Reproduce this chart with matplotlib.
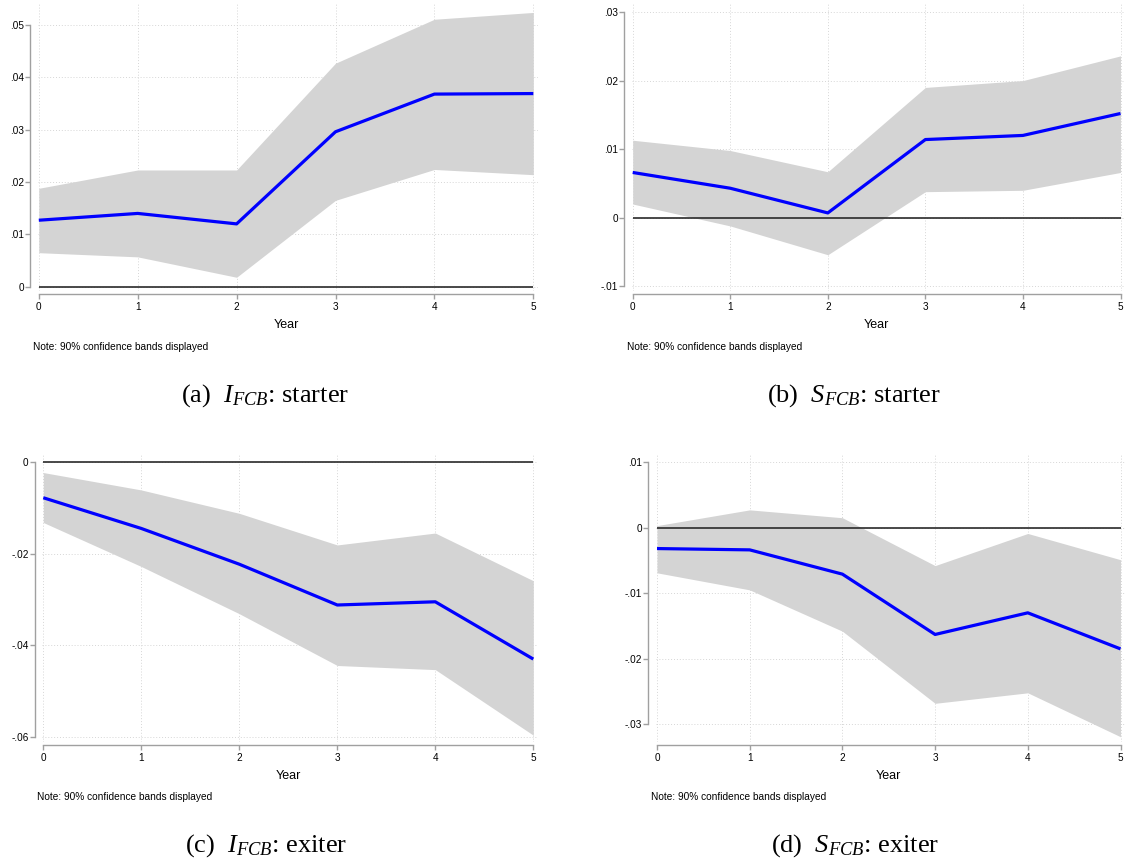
import matplotlib
matplotlib.use("Agg")
import matplotlib.pyplot as plt
from matplotlib.ticker import FuncFormatter, FixedLocator

plt.rcParams['font.family'] = ['Liberation Sans', 'DejaVu Sans']
plt.rcParams['mathtext.fontset'] = 'custom'
plt.rcParams['mathtext.rm'] = 'Liberation Serif'
plt.rcParams['mathtext.it'] = 'Liberation Serif:italic'

# ---------------- data ----------------
years = [0, 1, 2, 3, 4, 5]
year_labels = ["0", "1", "2", "3", "4", "5"]

a_est = [0.0127, 0.0140, 0.0120, 0.0296, 0.0368, 0.0369]
a_hi = [0.0188, 0.0223, 0.0223, 0.0427, 0.0511, 0.0524]
a_lo = [0.0065, 0.0057, 0.0018, 0.0165, 0.0224, 0.0214]
a_yticks = [0.0, 0.01, 0.02, 0.03, 0.04, 0.05]

b_est = [0.0066, 0.0043, 0.0007, 0.0114, 0.0120, 0.0152]
b_hi = [0.0113, 0.0098, 0.0067, 0.0190, 0.0200, 0.0236]
b_lo = [0.0020, -0.0012, -0.0054, 0.0038, 0.0040, 0.0066]
b_yticks = [-0.01, 0.0, 0.01, 0.02, 0.03]

c_est = [-0.0078, -0.0145, -0.0223, -0.0312, -0.0305, -0.0430]
c_hi = [-0.0023, -0.0061, -0.0112, -0.0181, -0.0155, -0.0259]
c_lo = [-0.0132, -0.0228, -0.0331, -0.0444, -0.0453, -0.0596]
c_yticks = [-0.06, -0.04, -0.02, 0.0]

d_est = [-0.0032, -0.0034, -0.0071, -0.0163, -0.0130, -0.0185]
d_hi = [0.0003, 0.0027, 0.0015, -0.0058, -0.0009, -0.0049]
d_lo = [-0.0069, -0.0095, -0.0158, -0.0268, -0.0252, -0.0319]
d_yticks = [-0.03, -0.02, -0.01, 0.0, 0.01]

captions = [r"(a)  $I_{FCB}$: starter", r"(b)  $S_{FCB}$: starter",
            r"(c)  $I_{FCB}$: exiter", r"(d)  $S_{FCB}$: exiter"]
note_text = "Note: 90% confidence bands displayed"
xlabel_text = "Year"

# ---------------- layout ----------------
W, H = 1126, 867
fig = plt.figure(figsize=(W / 100, H / 100), dpi=100)

BAND = '#d4d4d4'
LINE = '#0000ff'
SPINE = '#a0a0a0'
GRID = '#d6d6d6'


def fmt(v, pos=None):
    if abs(v) < 1e-12:
        return "0"
    s = f"{v:.2f}"
    s = s.replace("0.", ".")
    return s


def panel(est, hi, lo, yticks, x0, x5, yp_top, yp_bot, top, bottom,
          caption, cap_x, cap_y, year_y, note_y):
    sx = (x5 - x0) / 5.0
    L = x0 - 1
    R = min(x5 + 5, W - 1)
    xlim = ((L - x0) / sx, 5 + (R - x5) / sx)
    v1, v2 = max(yticks), min(yticks)
    sy = (yp_bot - yp_top) / (v1 - v2)
    ylim = (v2 - (bottom - yp_bot) / sy, v1 + (yp_top - top) / sy)
    ax = fig.add_axes([L / W, 1 - bottom / H, (R - L) / W, (bottom - top) / H])
    ax.set_xlim(*xlim)
    ax.set_ylim(*ylim)

    ax.fill_between(years, lo, hi, color=BAND, lw=0, zorder=2)
    ax.hlines(0, years[0], years[-1], color='#2a2a2a', lw=1.2, zorder=3)
    ax.plot(years, est, color=LINE, lw=2.3, zorder=4, solid_capstyle='butt')

    ax.xaxis.set_major_locator(FixedLocator(years))
    ax.set_xticklabels(year_labels)
    ax.yaxis.set_major_locator(FixedLocator(yticks))
    ax.yaxis.set_major_formatter(FuncFormatter(fmt))
    ax.grid(True, color=GRID, lw=0.7, ls=(0, (1, 2)), zorder=0)
    ax.set_axisbelow(True)

    for s in ('top', 'right'):
        ax.spines[s].set_visible(False)
    ax.spines['left'].set_position(('outward', 7.6 * 0.72))
    ax.spines['bottom'].set_position(('outward', 3.5 * 0.72))
    ax.spines['left'].set_bounds(v2, v1)
    ax.spines['bottom'].set_bounds(years[0], years[-1])
    for s in ('left', 'bottom'):
        ax.spines[s].set_color(SPINE)
        ax.spines[s].set_linewidth(1.0)
    ax.tick_params(axis='both', colors=SPINE, labelcolor='black',
                   labelsize=7.2, length=3.3, width=1.0)
    ax.tick_params(axis='y', pad=1.2)
    ax.tick_params(axis='x', pad=2.2)

    spine_x = x0 - 8.6
    fig.text((x0 + x5) / 2 / W, 1 - year_y / H, xlabel_text, ha='center',
             va='center', fontsize=9)
    fig.text((spine_x + 2.5) / W, 1 - note_y / H, note_text, ha='left',
             va='center', fontsize=7.3)
    fig.text(cap_x / W, 1 - cap_y / H, caption, ha='center', va='center',
             fontsize=19, family='Liberation Serif')
    return ax


panel(a_est, a_hi, a_lo, a_yticks, 38.8, 533.3, 25.0, 286.7, 4.0, 290.8,
      captions[0], 265, 396, 325, 346.7)
panel(b_est, b_hi, b_lo, b_yticks, 632.7, 1120.5, 12.0, 286.3, 4.0, 290.8,
      captions[1], 854, 396, 325, 346.7)
panel(c_est, c_hi, c_lo, c_yticks, 43.3, 533.3, 462.0, 737.0, 454.5, 741.8,
      captions[2], 266, 846, 776, 797.5)
panel(d_est, d_hi, d_lo, d_yticks, 657.0, 1120.5, 462.0, 724.3, 454.5, 741.8,
      captions[3], 855, 846, 776, 797.5)

fig.savefig("out.png", dpi=100)
